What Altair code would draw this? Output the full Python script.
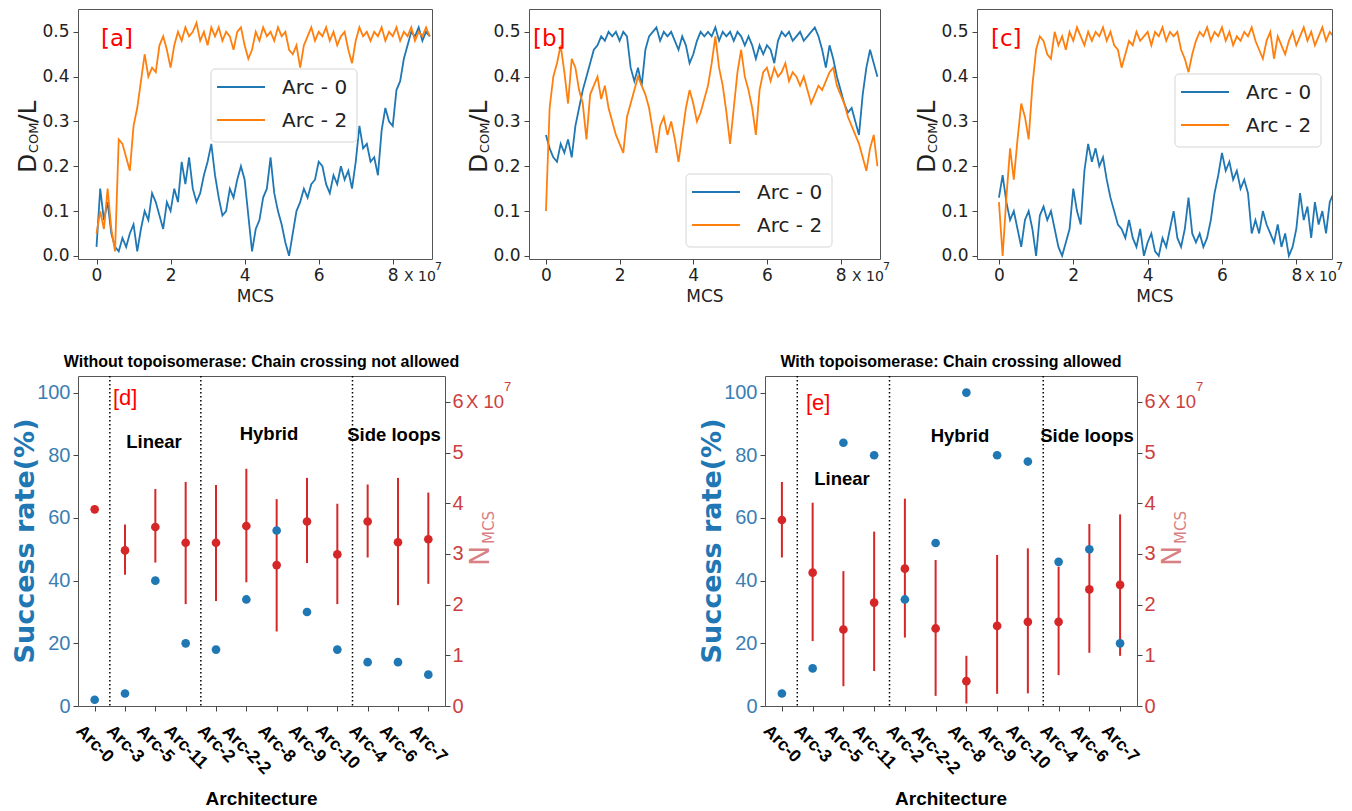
import altair as alt
import pandas as pd

# ---------------- top row: D_COM/L versus MCS (units of 1e7) ----------------
MCS = [i / 10 for i in range(91)]

A_ARC0 = [0.02, 0.15, 0.08, 0.12, 0.05, 0.02, 0.01, 0.04, 0.02, 0.05,
          0.07, 0.01, 0.06, 0.10, 0.08, 0.14, 0.12, 0.09, 0.06, 0.12,
          0.10, 0.15, 0.12, 0.21, 0.16, 0.22, 0.15, 0.12, 0.14, 0.18,
          0.21, 0.25, 0.18, 0.13, 0.09, 0.10, 0.15, 0.13, 0.17, 0.20,
          0.17, 0.09, 0.01, 0.06, 0.08, 0.13, 0.15, 0.22, 0.14, 0.10,
          0.07, 0.03, 0.00, 0.05, 0.10, 0.12, 0.15, 0.13, 0.16, 0.17,
          0.21, 0.20, 0.16, 0.14, 0.18, 0.16, 0.20, 0.17, 0.19, 0.15,
          0.21, 0.29, 0.24, 0.25, 0.21, 0.22, 0.18, 0.28, 0.33, 0.30,
          0.29, 0.37, 0.39, 0.44, 0.47, 0.50, 0.49, 0.51, 0.48, 0.50,
          0.49]
A_ARC2 = [0.05, 0.10, 0.06, 0.15, 0.06, 0.01, 0.26, 0.25, 0.22, 0.19,
          0.29, 0.33, 0.39, 0.45, 0.40, 0.42, 0.41, 0.47, 0.49, 0.46,
          0.42, 0.47, 0.50, 0.48, 0.51, 0.49, 0.50, 0.52, 0.48, 0.50,
          0.47, 0.51, 0.49, 0.51, 0.48, 0.50, 0.49, 0.46, 0.50, 0.51,
          0.47, 0.44, 0.46, 0.50, 0.48, 0.51, 0.49, 0.50, 0.48, 0.51,
          0.49, 0.50, 0.46, 0.45, 0.47, 0.42, 0.47, 0.49, 0.51, 0.48,
          0.50, 0.49, 0.51, 0.48, 0.50, 0.47, 0.49, 0.50, 0.46, 0.43,
          0.48, 0.51, 0.49, 0.50, 0.48, 0.50, 0.49, 0.51, 0.48, 0.50,
          0.49, 0.51, 0.48, 0.50, 0.49, 0.51, 0.48, 0.50, 0.49, 0.51,
          0.49]

B_ARC0 = [0.27, 0.24, 0.22, 0.21, 0.25, 0.23, 0.26, 0.22, 0.29, 0.33,
          0.37, 0.40, 0.43, 0.46, 0.47, 0.49, 0.48, 0.50, 0.49, 0.50,
          0.48, 0.50, 0.49, 0.42, 0.39, 0.42, 0.38, 0.46, 0.49, 0.50,
          0.51, 0.48, 0.50, 0.49, 0.50, 0.48, 0.46, 0.49, 0.47, 0.43,
          0.45, 0.48, 0.50, 0.49, 0.50, 0.49, 0.51, 0.48, 0.50, 0.49,
          0.50, 0.48, 0.50, 0.49, 0.47, 0.49, 0.47, 0.44, 0.47, 0.45,
          0.47, 0.46, 0.43, 0.48, 0.50, 0.49, 0.50, 0.48, 0.49, 0.50,
          0.48, 0.49, 0.50, 0.51, 0.49, 0.46, 0.42, 0.47, 0.44, 0.40,
          0.37, 0.34, 0.32, 0.33, 0.30, 0.27, 0.36, 0.42, 0.46, 0.43,
          0.40]
B_ARC2 = [0.10, 0.33, 0.40, 0.43, 0.47, 0.41, 0.34, 0.44, 0.42, 0.37,
          0.34, 0.26, 0.36, 0.38, 0.40, 0.35, 0.38, 0.33, 0.30, 0.27,
          0.25, 0.23, 0.31, 0.34, 0.37, 0.40, 0.38, 0.36, 0.33, 0.28,
          0.23, 0.29, 0.31, 0.27, 0.30, 0.26, 0.21, 0.27, 0.33, 0.37,
          0.34, 0.30, 0.32, 0.35, 0.38, 0.43, 0.49, 0.42, 0.38, 0.32,
          0.25, 0.33, 0.41, 0.46, 0.40, 0.37, 0.33, 0.27, 0.37, 0.41,
          0.42, 0.39, 0.42, 0.40, 0.41, 0.43, 0.39, 0.41, 0.40, 0.38,
          0.40, 0.37, 0.34, 0.36, 0.38, 0.37, 0.39, 0.41, 0.42, 0.38,
          0.36, 0.34, 0.31, 0.29, 0.27, 0.25, 0.22, 0.19, 0.24, 0.27,
          0.20]

C_ARC0 = [0.13, 0.18, 0.12, 0.08, 0.10, 0.06, 0.02, 0.08, 0.10, 0.06,
          0.00, 0.09, 0.11, 0.08, 0.10, 0.06, 0.02, 0.00, 0.03, 0.06,
          0.15, 0.10, 0.07, 0.19, 0.25, 0.21, 0.24, 0.20, 0.22, 0.17,
          0.13, 0.10, 0.07, 0.06, 0.04, 0.08, 0.04, 0.02, 0.06, 0.00,
          0.03, 0.05, 0.01, 0.00, 0.04, 0.02, 0.06, 0.10, 0.04, 0.02,
          0.06, 0.13, 0.05, 0.03, 0.05, 0.02, 0.04, 0.08, 0.14, 0.18,
          0.23, 0.19, 0.21, 0.17, 0.19, 0.15, 0.17, 0.14, 0.05, 0.08,
          0.05, 0.10, 0.07, 0.05, 0.03, 0.07, 0.02, 0.05, 0.00, 0.02,
          0.06, 0.14, 0.08, 0.11, 0.04, 0.12, 0.07, 0.10, 0.05, 0.12,
          0.14]
C_ARC2 = [0.12, 0.00, 0.13, 0.24, 0.17, 0.26, 0.34, 0.31, 0.26, 0.38,
          0.46, 0.49, 0.48, 0.45, 0.44, 0.50, 0.47, 0.49, 0.46, 0.50,
          0.48, 0.51, 0.49, 0.47, 0.50, 0.48, 0.50, 0.49, 0.51, 0.48,
          0.50, 0.47, 0.46, 0.42, 0.45, 0.48, 0.47, 0.50, 0.48, 0.49,
          0.50, 0.47, 0.50, 0.49, 0.51, 0.48, 0.50, 0.49, 0.50, 0.46,
          0.44, 0.41, 0.45, 0.48, 0.50, 0.49, 0.51, 0.48, 0.50, 0.49,
          0.51, 0.48, 0.50, 0.47, 0.49, 0.48, 0.50, 0.49, 0.51, 0.48,
          0.46, 0.44, 0.48, 0.50, 0.44, 0.49, 0.47, 0.45, 0.48, 0.50,
          0.47, 0.49, 0.51, 0.48, 0.50, 0.47, 0.49, 0.51, 0.48, 0.50,
          0.49]

SERIES = ["Arc - 0", "Arc - 2"]
LINE_COLORS = ["#1f77b4", "#ff7f0e"]
X_TICKS = [0, 2, 4, 6, 8]
Y_TICKS = [0.0, 0.1, 0.2, 0.3, 0.4, 0.5]

# ---------------- bottom row: success rate and N_MCS per architecture ----------------
ARCH = ["Arc-0", "Arc-3", "Arc-5", "Arc-11", "Arc-2", "Arc-2-2",
        "Arc-8", "Arc-9", "Arc-10", "Arc-4", "Arc-6", "Arc-7"]
GROUP_BREAKS = [0.5, 3.5, 8.5]

D_SUCCESS = [2, 4, 40, 20, 18, 34, 56, 30, 18, 14, 14, 10]
D_NMCS = [3.88, 3.07, 3.53, 3.22, 3.22, 3.55, 2.78, 3.64, 2.99, 3.64, 3.23, 3.29]
D_LO = [None, 2.59, 2.83, 2.01, 2.07, 2.44, 1.47, 2.82, 2.01, 2.93, 1.99, 2.41]
D_HI = [None, 3.58, 4.28, 4.42, 4.36, 4.68, 4.08, 4.50, 3.99, 4.37, 4.50, 4.21]

E_SUCCESS = [4, 12, 84, 80, 34, 52, 100, 80, 78, 46, 50, 20]
E_NMCS = [3.67, 2.63, 1.51, 2.04, 2.71, 1.53, 0.49, 1.58, 1.66, 1.66, 2.30, 2.39]
E_LO = [2.93, 1.28, 0.39, 0.69, 1.35, 0.20, 0.05, 0.24, 0.25, 0.61, 1.05, 0.99]
E_HI = [4.42, 4.01, 2.66, 3.44, 4.09, 2.88, 0.99, 2.98, 3.11, 2.75, 3.59, 3.78]

LEFT_TICKS = [0, 20, 40, 60, 80, 100]
RIGHT_TICKS = [0, 1, 2, 3, 4, 5, 6]

SANS = "DejaVu Sans"
ARIAL = "Liberation Sans"
BLUE = "#1f77b4"
RED = "#d62728"
BLUE_LBL = "#3a7eb3"
RED_LBL = "#cc3e40"
NMCS_COLOR = "#d98083"
TXT = "#222222"
TICK = "#444444"

ONE = pd.DataFrame({"k": [0]})


def note(text, x, y, size, color=TXT, font=SANS, weight="normal", angle=0,
         align="left", baseline="alphabetic"):
    return alt.Chart(ONE).mark_text(
        text=text, fontSize=size, color=color, font=font, fontWeight=weight,
        angle=angle, align=align, baseline=baseline
    ).encode(x=alt.value(x), y=alt.value(y))


def spacer(x):
    # invisible element that fixes how far a panel reaches to the left
    return alt.Chart(ONE).mark_rule(opacity=0).encode(
        x=alt.value(x), x2=alt.value(x + 1), y=alt.value(0), y2=alt.value(4))


def legend_box(x0, y0):
    parts = [
        alt.Chart(ONE).mark_rect(fill="white", fillOpacity=0.85, stroke="#d5d5d5",
                                 strokeWidth=1, cornerRadius=4).encode(
            x=alt.value(x0), x2=alt.value(x0 + 146), y=alt.value(y0), y2=alt.value(y0 + 73)),
    ]
    for i, (name, col) in enumerate(zip(SERIES, LINE_COLORS)):
        yy = y0 + 18 + 33 * i
        parts.append(alt.Chart(ONE).mark_rule(color=col, strokeWidth=2).encode(
            x=alt.value(x0 + 6), x2=alt.value(x0 + 54), y=alt.value(yy)))
        parts.append(note(name, x0 + 71, yy + 7, 20))
    return parts


TOP_H = 250


def ts_panel(arc0, arc2, width, xdom, leg_x, leg_y, tag, tag_x, x10_x, sup_x, extra=None):
    n = len(MCS)
    df = pd.DataFrame({
        "mcs": MCS + MCS,
        "d": arc0 + arc2,
        "series": [SERIES[0]] * n + [SERIES[1]] * n,
    })
    lines = alt.Chart(df).mark_line(strokeWidth=1.8, clip=True).encode(
        x=alt.X("mcs:Q", scale=alt.Scale(domain=xdom, nice=False, zero=False),
                axis=alt.Axis(values=X_TICKS, format="d", title="MCS", titleFont=SANS,
                              titleFontSize=17, titleFontWeight="normal", titleColor=TXT,
                              titlePadding=5, labelFont=SANS, labelFontSize=17,
                              labelColor=TXT, labelPadding=3, tickSize=5, tickColor=TICK,
                              domain=False, grid=False)),
        y=alt.Y("d:Q", scale=alt.Scale(domain=[-0.007, 0.551], nice=False, zero=False),
                axis=alt.Axis(values=Y_TICKS, format=".1f", title=None, labelFont=SANS,
                              labelFontSize=17, labelColor=TXT, labelPadding=4, tickSize=5,
                              tickColor=TICK, domain=False, grid=False)),
        color=alt.Color("series:N", scale=alt.Scale(domain=SERIES, range=LINE_COLORS),
                        legend=None),
    )
    texts = [
        note("D", -42, 164, 25, angle=270),
        note("COM", -40, 144, 13, angle=270),
        note("/L", -42, 114, 25, angle=270),
        note(tag, tag_x, 37, 23, color="red"),
        note("X 10", x10_x, 272, 14),
        note("7", sup_x, 261, 11),
    ]
    layers = [lines] + legend_box(leg_x, leg_y) + texts
    if extra is not None:
        layers.append(extra)
    return alt.layer(*layers).properties(width=width, height=TOP_H)


BOT_H = 330


def rate_panel(success, nmid, nlo, nhi, width, title, tag, tag_x, tag_y, regions):
    df = pd.DataFrame({"idx": list(range(len(ARCH))), "arch": ARCH,
                       "success": success, "n": nmid, "lo": nlo, "hi": nhi})
    xscale = alt.Scale(domain=[-0.55, 11.55], nice=False, zero=False)
    xenc = alt.X("idx:Q", scale=xscale,
                 axis=alt.Axis(values=list(range(len(ARCH))), labels=False, title=None,
                               tickSize=5, tickColor=TICK, domain=False, grid=False))
    rscale = alt.Scale(domain=[0, 6.51], nice=False, zero=False)
    raxis = alt.Axis(orient="right", values=RIGHT_TICKS, format="d", title=None,
                     labelFont=ARIAL, labelFontSize=20, labelColor=RED_LBL, labelPadding=2,
                     tickSize=5, tickColor=TICK, domain=False, grid=False)
    bars = alt.Chart(df).transform_filter("isValid(datum.lo)").mark_rule(
        color=RED, strokeWidth=2).encode(
        x=xenc, y=alt.Y("lo:Q", scale=rscale, axis=raxis), y2="hi:Q")
    reds = alt.Chart(df).mark_circle(color=RED, size=75, opacity=1).encode(
        x=xenc, y=alt.Y("n:Q", scale=rscale, axis=raxis))
    right = alt.layer(bars, reds)
    blues = alt.Chart(df).mark_circle(color=BLUE, size=75, opacity=1).encode(
        x=xenc,
        y=alt.Y("success:Q", scale=alt.Scale(domain=[0, 105.3], nice=False, zero=False),
                axis=alt.Axis(orient="left", values=LEFT_TICKS, format="d", title=None,
                              labelFont=ARIAL, labelFontSize=20, labelColor=BLUE_LBL,
                              labelPadding=3, tickSize=5, tickColor=TICK, domain=False,
                              grid=False)))
    seps = alt.Chart(pd.DataFrame({"idx": GROUP_BREAKS})).mark_rule(
        color="black", strokeDash=[1.5, 2.5], strokeWidth=1.5).encode(
        x=xenc, y=alt.value(0), y2=alt.value(BOT_H))
    labels = alt.Chart(df).transform_calculate(
        off=f"{BOT_H + 18} + 0.3535 * (length(datum.arch) * 8.8 + 12.5)"
    ).mark_text(angle=45, align="center", baseline="middle", font=ARIAL, fontSize=17.5,
                fontWeight="bold", color="black").encode(
        x=xenc, y=alt.Y("off:Q", scale=None), text="arch:N")
    texts = [
        note(title, width / 2, -14, 16, color="black", font=ARIAL, weight="bold",
             align="center", baseline="middle"),
        note(tag, tag_x, tag_y, 22, color="red", font=ARIAL),
        note("Success rate(%)", -44, BOT_H / 2, 27, color=BLUE, weight="bold",
             angle=270, align="center"),
        note("N", width + 44, 190, 27, color=NMCS_COLOR, angle=270),
        note("MCS", width + 49, 168, 15, color=NMCS_COLOR, angle=270),
        note("X 10", width + 21, 32, 18.5, color=RED_LBL, font=ARIAL),
        note("7", width + 59, 15, 13, color=RED_LBL, font=ARIAL),
        note("Architecture", width / 2, BOT_H + 99, 19, color="black", font=ARIAL,
             weight="bold", align="center"),
    ]
    for (txt, cx, by) in regions:
        texts.append(note(txt, cx, by, 18.5, color="black", font=ARIAL, weight="bold",
                          align="center"))
    layer = alt.layer(seps, right, blues, labels, *texts, spacer(-66)).resolve_scale(
        y="independent")
    return layer.properties(width=width, height=BOT_H)


pa = ts_panel(A_ARC0, A_ARC2, 354, [-0.5, 9.06], 133, 60, "[a]", 23, 326, 357,
              extra=spacer(-69.3))
pb = ts_panel(B_ARC0, B_ARC2, 351, [-0.46, 9.07], 157, 165, "[b]", 4, 323, 354)
pc = ts_panel(C_ARC0, C_ARC2, 355, [-0.59, 8.96], 198, 65, "[c]", 14, 328, 359)

pd_panel = rate_panel(D_SUCCESS, D_NMCS, D_LO, D_HI, 367,
                      "Without topoisomerase: Chain crossing not allowed", "[d]", 35, 29,
                      [("Linear", 76, 72), ("Hybrid", 191, 64), ("Side loops", 316, 65)])
pe_panel = rate_panel(E_SUCCESS, E_NMCS, E_LO, E_HI, 372,
                      "With topoisomerase: Chain crossing allowed", "[e]", 41, 34,
                      [("Linear", 77, 109), ("Hybrid", 195, 66), ("Side loops", 322, 66)])

top = alt.hconcat(pa, pb, pc, spacing=97, bounds="flush")
bottom = alt.hconcat(pd_panel, pe_panel, spacing=320, bounds="flush")
chart = alt.vconcat(top, bottom, spacing=48).properties(padding=0).configure_view(
    stroke="#555555", strokeWidth=1)

chart.save("out.html", embed_options={"renderer": "svg", "actions": False})
